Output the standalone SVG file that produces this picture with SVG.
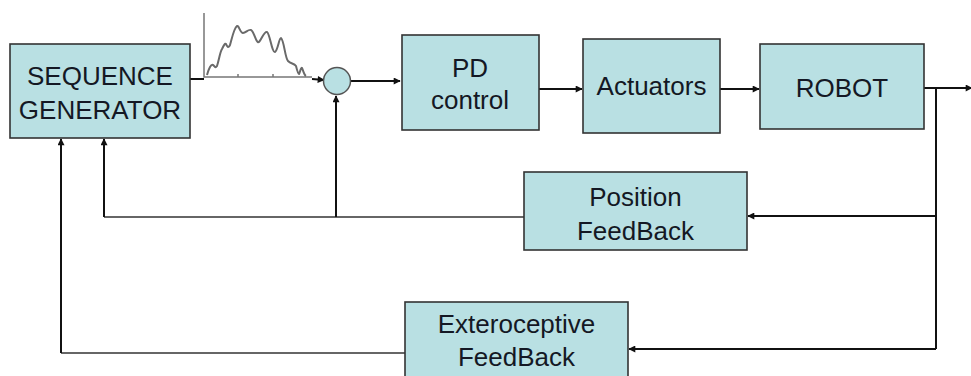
<svg xmlns="http://www.w3.org/2000/svg" width="971" height="376" viewBox="0 0 971 376">
  <style>
    .box { fill: #b9e0e3; stroke: #333; stroke-width: 1.6; }
    .lbl { font-family: "Liberation Sans", Arial, sans-serif; font-size: 26px; fill: #141824; text-anchor: middle; }
    .wire { fill: none; stroke: #111; stroke-width: 2; }
    .thin { fill: none; stroke: #333; stroke-width: 1.5; }
    .plot { fill: none; stroke: #6a6a6a; stroke-width: 2; stroke-linejoin: round; }
    .axis { fill: none; stroke: #777; stroke-width: 1.5; }
  </style>
  <defs>
    <marker id="arrow" viewBox="0 0 10 10" refX="9" refY="5" markerWidth="9" markerHeight="7" markerUnits="userSpaceOnUse" orient="auto">
      <path d="M0,0 L10,5 L0,10 z" fill="#111"/>
    </marker>
  </defs>
  <rect width="971" height="376" fill="#fff"/>

  <!-- reference signal sketch -->
  <g id="signal-plot">
    <path class="axis" d="M204,13 V77 H312"/>
    <path class="axis" d="M238,77 v-3 M273,77 v-3"/>
    <path class="plot" d="M207,75 C209,68 211,64 213,65 C215,66 215,69 217,66 C219,60 220,52 222,49 C224,45 225,43 226,44 C227,46 228,49 230,45 C232,38 234,28 237,26 C239,25 240,33 243,33 C246,33 248,29 251,30 C254,31 256,44 259,42 C262,39 264,31 267,32 C270,34 272,53 275,52 C278,50 279,38 281,38 C284,40 285,58 288,61 C291,64 294,63 296,66 C297,70 298,74 299,74 C300,72 301,67 302,68 C303,70 304,75 306,76"/>
  </g>

  <g id="connectors">
    <path class="wire" d="M190,79 H204"/>
    <path class="wire" d="M312,79 L324,80" marker-end="url(#arrow)"/>
    <path class="wire" d="M351,81 H400" marker-end="url(#arrow)"/>
    <path class="wire" d="M539,89 H582" marker-end="url(#arrow)"/>
    <path class="wire" d="M720,89 H759" marker-end="url(#arrow)"/>
    <path class="wire" d="M924,88 H972" marker-end="url(#arrow)"/>
    <path class="wire" d="M936,88 V349"/>
    <path class="wire" d="M936,216 H748" marker-end="url(#arrow)"/>
    <path class="wire" d="M936,349 H629" marker-end="url(#arrow)"/>
    <path class="thin" d="M524,217 H104"/>
    <path class="wire" d="M104,217 V139" marker-end="url(#arrow)"/>
    <path class="wire" d="M336,217 V96" marker-end="url(#arrow)"/>
    <path class="thin" d="M405,353 H61"/>
    <path class="wire" d="M61,353 V139" marker-end="url(#arrow)"/>
  </g>

  <g id="sequence-generator">
    <rect class="box" x="10" y="44" width="180" height="94"/>
    <text class="lbl" x="100" y="85">SEQUENCE</text>
    <text class="lbl" x="100" y="119">GENERATOR</text>
  </g>

  <g id="summing-junction">
    <circle cx="337" cy="81" r="13.5" fill="#b9e0e3" stroke="#555" stroke-width="1.5"/>
  </g>

  <g id="pd-control">
    <rect class="box" x="402" y="35" width="137" height="95"/>
    <text class="lbl" x="470" y="77">PD</text>
    <text class="lbl" x="470" y="109">control</text>
  </g>

  <g id="actuators">
    <rect class="box" x="583" y="39" width="137" height="94"/>
    <text class="lbl" x="651.5" y="95">Actuators</text>
  </g>

  <g id="robot">
    <rect class="box" x="760" y="44" width="164" height="85"/>
    <text class="lbl" x="842" y="97">ROBOT</text>
  </g>

  <g id="position-feedback">
    <rect class="box" x="524" y="172" width="223" height="78"/>
    <text class="lbl" x="635.5" y="206">Position</text>
    <text class="lbl" x="635.5" y="240">FeedBack</text>
  </g>

  <g id="exteroceptive-feedback">
    <rect class="box" x="405" y="302" width="223" height="80"/>
    <text class="lbl" x="516.5" y="333">Exteroceptive</text>
    <text class="lbl" x="516.5" y="366">FeedBack</text>
  </g>
</svg>
